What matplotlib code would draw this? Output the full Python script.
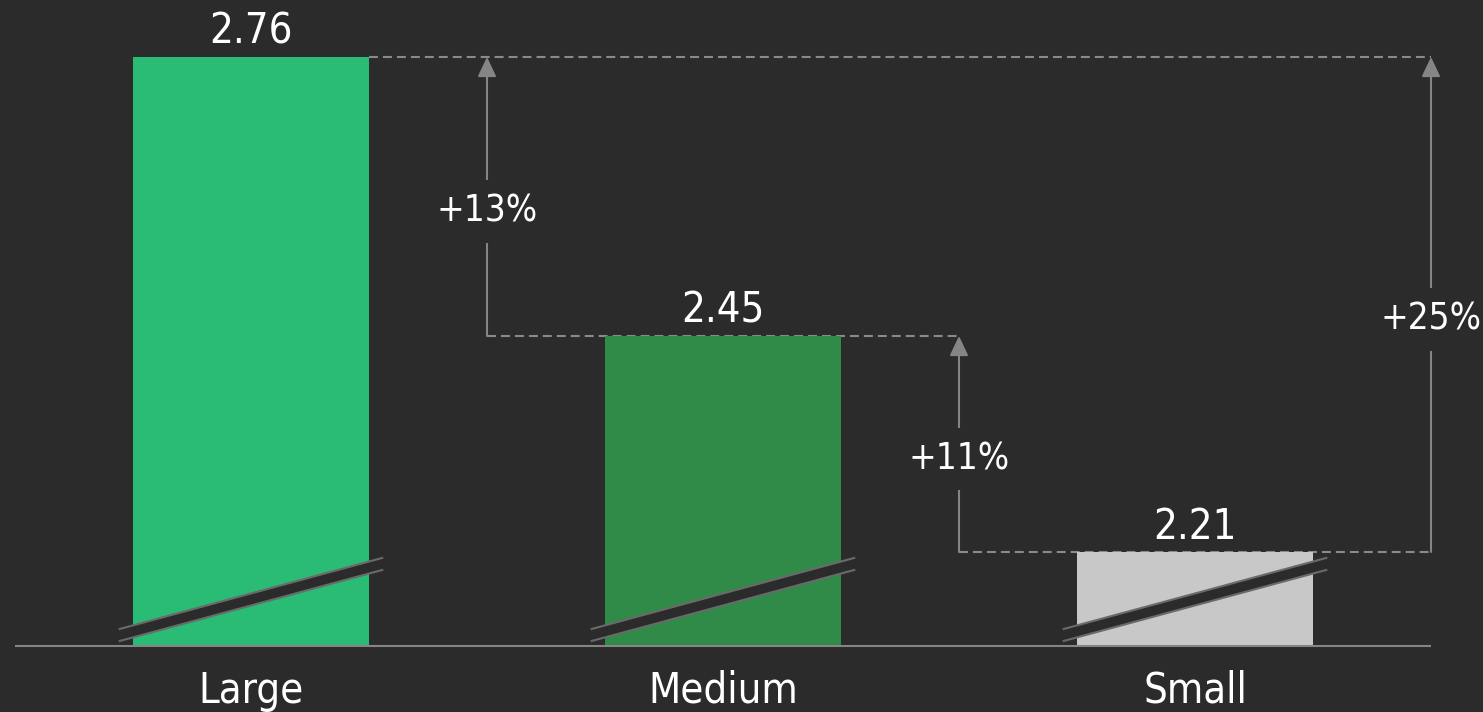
import matplotlib
matplotlib.use('Agg')
import matplotlib.pyplot as plt
from matplotlib.patches import Polygon

categories = ['Large', 'Medium', 'Small']
values = [2.76, 2.45, 2.21]
colors = ['#2abb74', '#2f8b47', '#c8c8c8']
base = 2.1056

bg = '#2b2b2b'
grey = '#858585'
plt.rcParams['font.family'] = ['DejaVu Sans']
plt.rcParams['font.stretch'] = 'condensed'

fig = plt.figure(figsize=(14.83, 7.12), dpi=100, facecolor=bg)
ax = fig.add_axes([0, 0, 1, 1], facecolor=bg)
ax.set_xlim(-251 / 472, (1483 - 251) / 472)
ax.set_ylim(2.76 - 655 / 900, 2.76 + 57 / 900)
ax.axis('off')
px = 1 / 900  # one pixel in data units (vertical)

w = 0.5
xs = list(range(len(categories)))
ax.bar(xs, [v - base for v in values], bottom=base, width=w, color=colors, zorder=2)

# baseline
ax.plot([-0.5, 2.5], [base, base], color=grey, lw=1.5, zorder=3,
        solid_capstyle='butt')

# broken-axis slashes
for x in xs:
    x0, x1 = x - w / 2 - 0.028, x + w / 2 + 0.028
    y0, y1 = base + 17 * px, base + 88 * px
    band = 12 * px
    poly = Polygon([(x0, y0), (x1, y1), (x1, y1 - band), (x0, y0 - band)],
                   closed=True, facecolor=bg, edgecolor='none', zorder=4)
    ax.add_patch(poly)
    ax.plot([x0, x1], [y0, y1], color='#6a6a6a', lw=1.5, zorder=5)
    ax.plot([x0, x1], [y0 - band, y1 - band], color='#6a6a6a', lw=1.5, zorder=5)

# value labels and category labels
for x, v, c in zip(xs, values, categories):
    ax.text(x, v + 13 * px, f'{v:.2f}', ha='center', va='baseline',
            color='white', fontsize=30, zorder=6)
    ax.text(x, base - 57 * px, c, ha='center', va='baseline',
            color='white', fontsize=30, zorder=6)

# dashed reference lines
dash = dict(color='#8a8a8a', lw=1.5, ls=(0, (4.3, 2.4)), zorder=1)
ax.plot([w / 2, 2.5], [values[0], values[0]], **dash)
ax.plot([0.5, 1.5], [values[1], values[1]], **dash)
ax.plot([1.5, 2.5], [values[2], values[2]], **dash)

# change arrows
pairs = [(0.5, 1, 0), (1.5, 2, 1), (2.5, 2, 0)]
for ax_x, lo, hi in pairs:
    ax.annotate('', xy=(ax_x, values[hi]), xytext=(ax_x, values[lo]),
                arrowprops=dict(arrowstyle='-|>,head_length=0.8,head_width=0.38',
                                mutation_scale=15, color=grey, lw=1.5,
                                shrinkA=0, shrinkB=0),
                zorder=2)
    pct = round((values[hi] / values[lo] - 1) * 100)
    ax.text(ax_x, (values[hi] + values[lo]) / 2 - 15 * px, f'+{pct}%', ha='center',
            va='center', color='white', fontsize=26.5, zorder=6,
            bbox=dict(boxstyle='square,pad=0.35', facecolor=bg, edgecolor='none'))

fig.savefig('out.png', dpi=100, facecolor=bg)
